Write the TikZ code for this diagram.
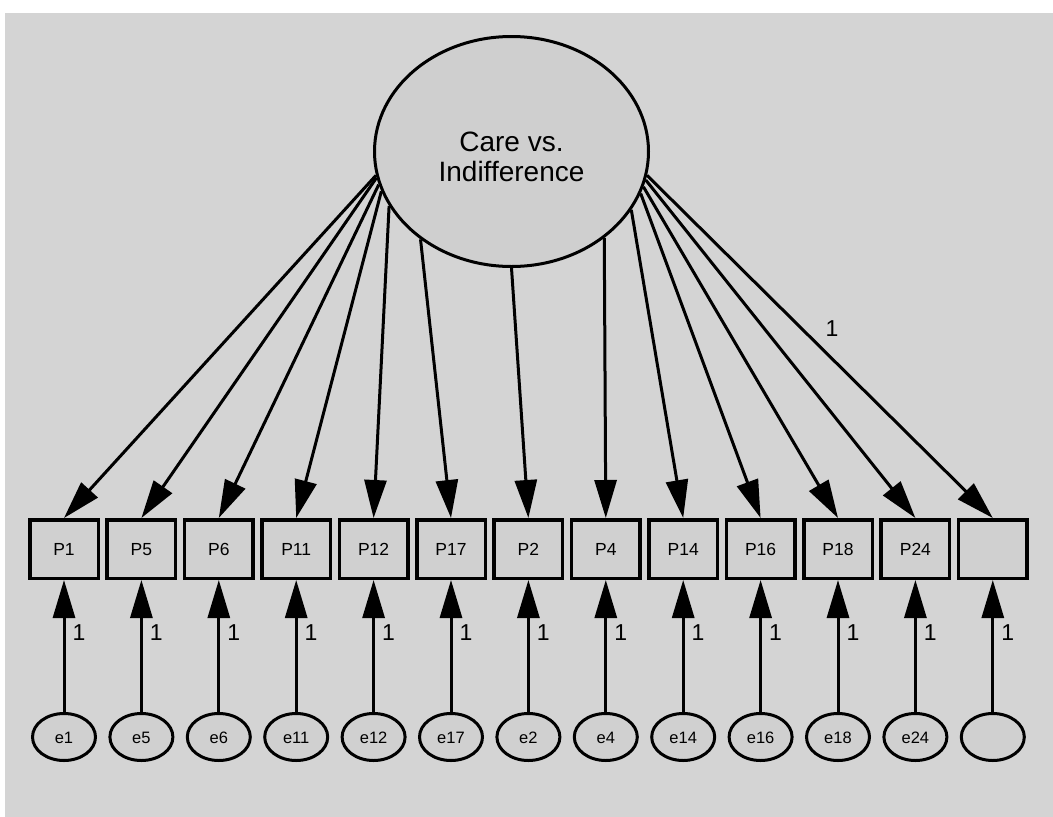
\documentclass[tikz,border=0pt]{standalone}
\usepackage{fontspec}
\setmainfont{Liberation Sans}
\usetikzlibrary{arrows.meta,shapes.geometric}
\definecolor{bg}{HTML}{D4D4D4}
\definecolor{boxfill}{HTML}{D0D0D0}
\definecolor{latfill}{HTML}{CFCFCF}
\begin{document}
\begin{tikzpicture}[x=1pt,y=-1pt,
  obs/.style={draw=black, line width=3.5pt, fill=boxfill, rectangle,
    minimum width=68.5pt, minimum height=58.5pt, inner sep=0pt,
    text height=12.5pt, text depth=0pt,
    font=\fontsize{17.5}{20}\selectfont},
  err/.style={draw=black, line width=3pt, fill=boxfill, ellipse,
    minimum width=63pt, minimum height=47pt, inner sep=0pt,
    text height=12pt, text depth=0pt,
    font=\fontsize{16.5}{19}\selectfont},
  lat/.style={draw=black, line width=3pt, fill=latfill, ellipse,
    minimum width=274pt, minimum height=230pt, inner sep=0pt, align=center,
    font=\fontsize{28}{30}\selectfont},
  arr/.style={line width=3pt, -{Triangle[length=38pt,width=22pt]}},
  lab/.style={inner sep=0pt, font=\fontsize{23}{26}\selectfont}]
\useasboundingbox (0,0) rectangle (1053,817);
\fill[white] (0,0) rectangle (1053,817);
\fill[bg] (5,13) rectangle (1053,817);
\node[lat] (F) at (511.5,151.5) {\rule{0pt}{30pt}Care vs.\\Indifference};
\foreach \nm/\lab/\el/\ang [count=\i from 0] in {
  p1/P1/e1/190.2, p5/P5/e5/191.9, p6/P6/e6/194.5, p11/P11/e11/197.6,
  p12/P12/e12/204.6, p17/P17/e17/224.7, p2/P2/e2/270.2, p4/P4/e4/-43.1,
  p14/P14/e14/-26.3, p16/P16/e16/-18.7, p18/P18/e18/-15.2, p24/P24/e24/-12.6,
  px/{}/{}/-10.4}{
  \node[obs] (\nm) at ({64+77.4*\i},549) {\lab};
  \node[err] (e\nm) at ({64+77.4*\i},737) {\el};
  \draw[arr] (F.\ang) -- (\nm.north);
  \draw[arr] (e\nm.north) -- node[lab, pos=0.6, right=7pt] {1} (\nm.south);
}
\node[lab] (toplab) at (832,329) {1};
\end{tikzpicture}
\end{document}
